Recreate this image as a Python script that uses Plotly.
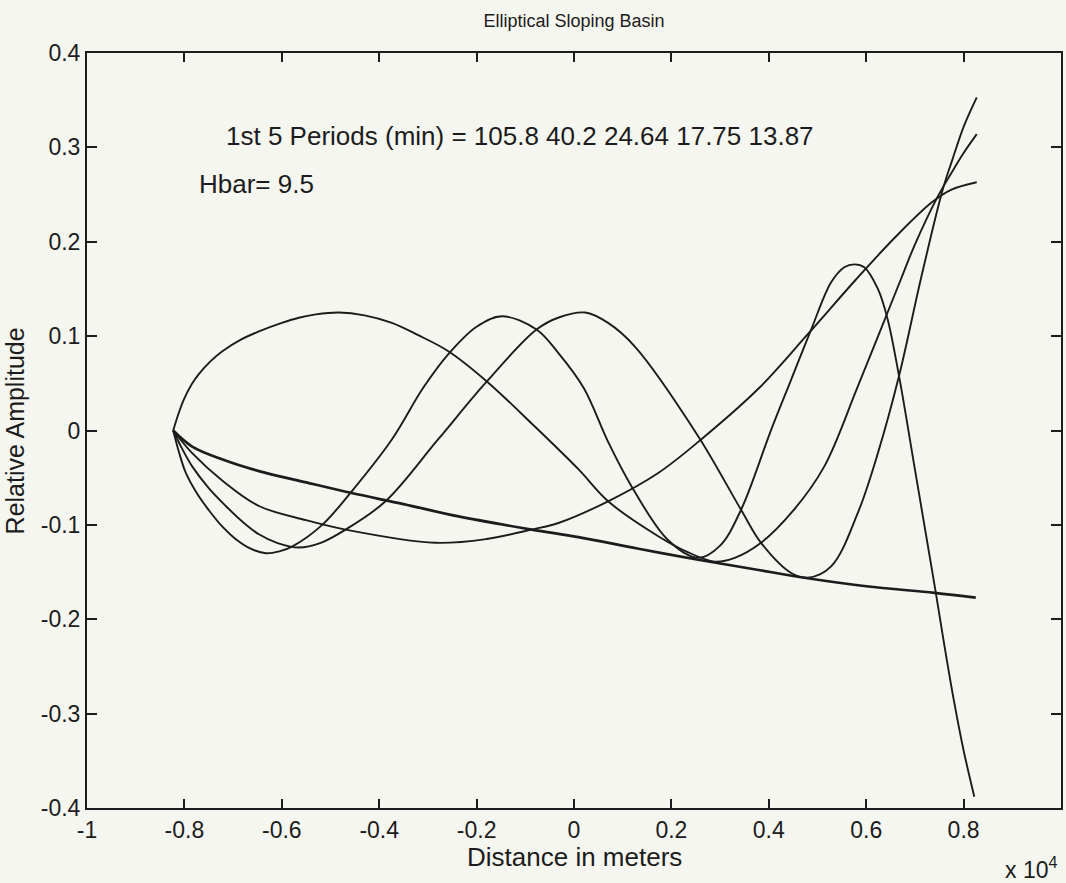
import plotly.graph_objects as go

# Distance along the basin axis, in units of 1e4 m, and relative amplitude of each mode
mode1_x = [-0.823, -0.784, -0.72, -0.647, -0.55, -0.459, -0.35, -0.237, -0.087, 0.009,
           0.13, 0.255, 0.37, 0.473, 0.6, 0.74, 0.825]
mode1_y = [0.0, -0.017, -0.031, -0.043, -0.055, -0.066, -0.078, -0.091, -0.105, -0.113,
           -0.125, -0.137, -0.147, -0.156, -0.165, -0.172, -0.177]

mode2_x = [-0.823, -0.784, -0.72, -0.647, -0.55, -0.469, -0.285, -0.18, -0.087, -0.032,
           0.070, 0.173, 0.261, 0.38, 0.48, 0.579, 0.66, 0.733, 0.774, 0.827]
mode2_y = [0.0, -0.024, -0.054, -0.080, -0.095, -0.105, -0.119, -0.115, -0.105, -0.098,
           -0.075, -0.045, -0.0095, 0.045, 0.102, 0.160, 0.205, 0.241, 0.255, 0.263]

mode3_x = [-0.823, -0.812, -0.801, -0.785, -0.770, -0.745, -0.722, -0.685, -0.647, -0.60,
           -0.565, -0.53, -0.483, -0.43, -0.374, -0.32, -0.258, -0.179, -0.08, 0.009,
           0.070, 0.173, 0.23, 0.289, 0.33, 0.384, 0.45, 0.514, 0.583, 0.671, 0.70,
           0.746, 0.774, 0.80, 0.827]
mode3_y = [0.0, 0.018, 0.033, 0.049, 0.060, 0.074, 0.084, 0.096, 0.105, 0.114,
           0.1195, 0.123, 0.125, 0.122, 0.114, 0.101, 0.084, 0.052, 0.004, -0.041,
           -0.075, -0.112, -0.128, -0.139, -0.135, -0.119, -0.085, -0.038, 0.047, 0.160, 0.197,
           0.247, 0.272, 0.294, 0.314]

mode4_x = [-0.823, -0.805, -0.784, -0.75, -0.715, -0.68, -0.647, -0.61, -0.565, -0.52,
           -0.469, -0.387, -0.28, -0.179, -0.077, -0.03, 0.023, 0.07, 0.125, 0.255, 0.343,
           0.384, 0.446, 0.48, 0.528, 0.583, 0.624, 0.668, 0.712, 0.757, 0.777, 0.801, 0.827]
mode4_y = [0.0, -0.019, -0.038, -0.061, -0.080, -0.097, -0.110, -0.119, -0.124, -0.119,
           -0.105, -0.075, -0.010, 0.052, 0.107, 0.120, 0.125, 0.114, 0.089, -0.006, -0.084,
           -0.119, -0.151, -0.156, -0.144, -0.087, -0.024, 0.059, 0.160, 0.255, 0.287, 0.323, 0.353]

mode5_x = [-0.823, -0.81, -0.797, -0.775, -0.749, -0.72, -0.695, -0.665, -0.633, -0.605,
           -0.579, -0.517, -0.459, -0.374, -0.31, -0.258, -0.2, -0.148, -0.077, -0.032, 0.02,
           0.070, 0.118, 0.193, 0.255, 0.30, 0.343, 0.405, 0.446, 0.487, 0.528, 0.555,
           0.576, 0.596, 0.624, 0.644, 0.668, 0.699, 0.72, 0.743, 0.76, 0.78, 0.80, 0.822]
mode5_y = [0.0, -0.025, -0.045, -0.066, -0.085, -0.103, -0.115, -0.125, -0.130, -0.128,
           -0.123, -0.100, -0.066, -0.0095, 0.045, 0.081, 0.110, 0.121, 0.107, 0.082, 0.045,
           -0.012, -0.059, -0.116, -0.135, -0.122, -0.084, 0.001, 0.054, 0.107, 0.157, 0.173,
           0.176, 0.173, 0.150, 0.118, 0.056, -0.038, -0.102, -0.172, -0.226, -0.286, -0.339, -0.388]

x_ticks = [-1, -0.8, -0.6, -0.4, -0.2, 0, 0.2, 0.4, 0.6, 0.8, 1]
x_tick_text = ["-1", "-0.8", "-0.6", "-0.4", "-0.2", "0", "0.2", "0.4", "0.6", "0.8", "1"]
y_ticks = [-0.4, -0.3, -0.2, -0.1, 0, 0.1, 0.2, 0.3, 0.4]
y_tick_text = ["-0.4", "-0.3", "-0.2", "-0.1", "0", "0.1", "0.2", "0.3", "0.4"]

periods_text = "1st 5 Periods (min) = 105.8 40.2 24.64 17.75 13.87"
hbar_text = "Hbar= 9.5"

INK = "#1c1c1c"
BG = "#f6f6f0"
FONT = "Liberation Sans, Arial, Helvetica, sans-serif"

fig = go.Figure()
curves = [
    (mode1_x, mode1_y, 2.7),
    (mode2_x, mode2_y, 1.9),
    (mode3_x, mode3_y, 1.9),
    (mode4_x, mode4_y, 1.9),
    (mode5_x, mode5_y, 1.9),
]
for xs, ys, w in curves:
    fig.add_trace(go.Scatter(
        x=xs, y=ys, mode="lines",
        line=dict(color=INK, width=w, shape="spline", smoothing=1.0),
        hoverinfo="skip", showlegend=False,
    ))

axis_common = dict(
    showgrid=False, zeroline=False,
    showline=True, linecolor=INK, linewidth=2, mirror="ticks",
    ticks="inside", tickcolor=INK, tickwidth=1.5,
    tickfont=dict(family=FONT, size=23, color=INK),
)
fig.update_xaxes(range=[-1, 1], tickvals=x_ticks, ticktext=x_tick_text, ticklen=9, **axis_common)
fig.update_yaxes(range=[-0.4, 0.4], tickvals=y_ticks, ticktext=y_tick_text, ticklen=10, **axis_common)

fig.update_layout(
    width=1066, height=883,
    margin=dict(l=87, r=3, t=53, b=75),
    paper_bgcolor=BG, plot_bgcolor=BG,
    font=dict(family=FONT, size=22, color=INK),
    title=dict(text="Elliptical Sloping Basin", xref="paper", x=0.5, xanchor="center",
               yref="container", y=1 - 21 / 883, yanchor="middle",
               font=dict(family=FONT, size=18, color=INK)),
    showlegend=False,
)

annotations = [
    dict(text=periods_text, x=-0.7187, y=0.3123, xref="x", yref="y",
         xanchor="left", yanchor="middle", font=dict(size=26)),
    dict(text=hbar_text, x=-0.7734, y=0.261, xref="x", yref="y",
         xanchor="left", yanchor="middle", font=dict(size=26)),
    dict(text="Distance in meters", x=0.5, y=-0.0645, xref="paper", yref="paper",
         xanchor="center", yanchor="middle", font=dict(size=26)),
    dict(text="Relative Amplitude", x=-0.074, y=0.5, xref="paper", yref="paper",
         xanchor="center", yanchor="middle", textangle=-90, font=dict(size=25)),
    dict(text="x 10<sup>4</sup>", x=0.9406, y=-0.0795, xref="paper", yref="paper",
         xanchor="left", yanchor="middle", font=dict(size=23)),
]
for a in annotations:
    a["showarrow"] = False
    a["font"] = dict(family=FONT, color=INK, **a["font"])
    fig.add_annotation(**a)

fig.write_html("out.html")
